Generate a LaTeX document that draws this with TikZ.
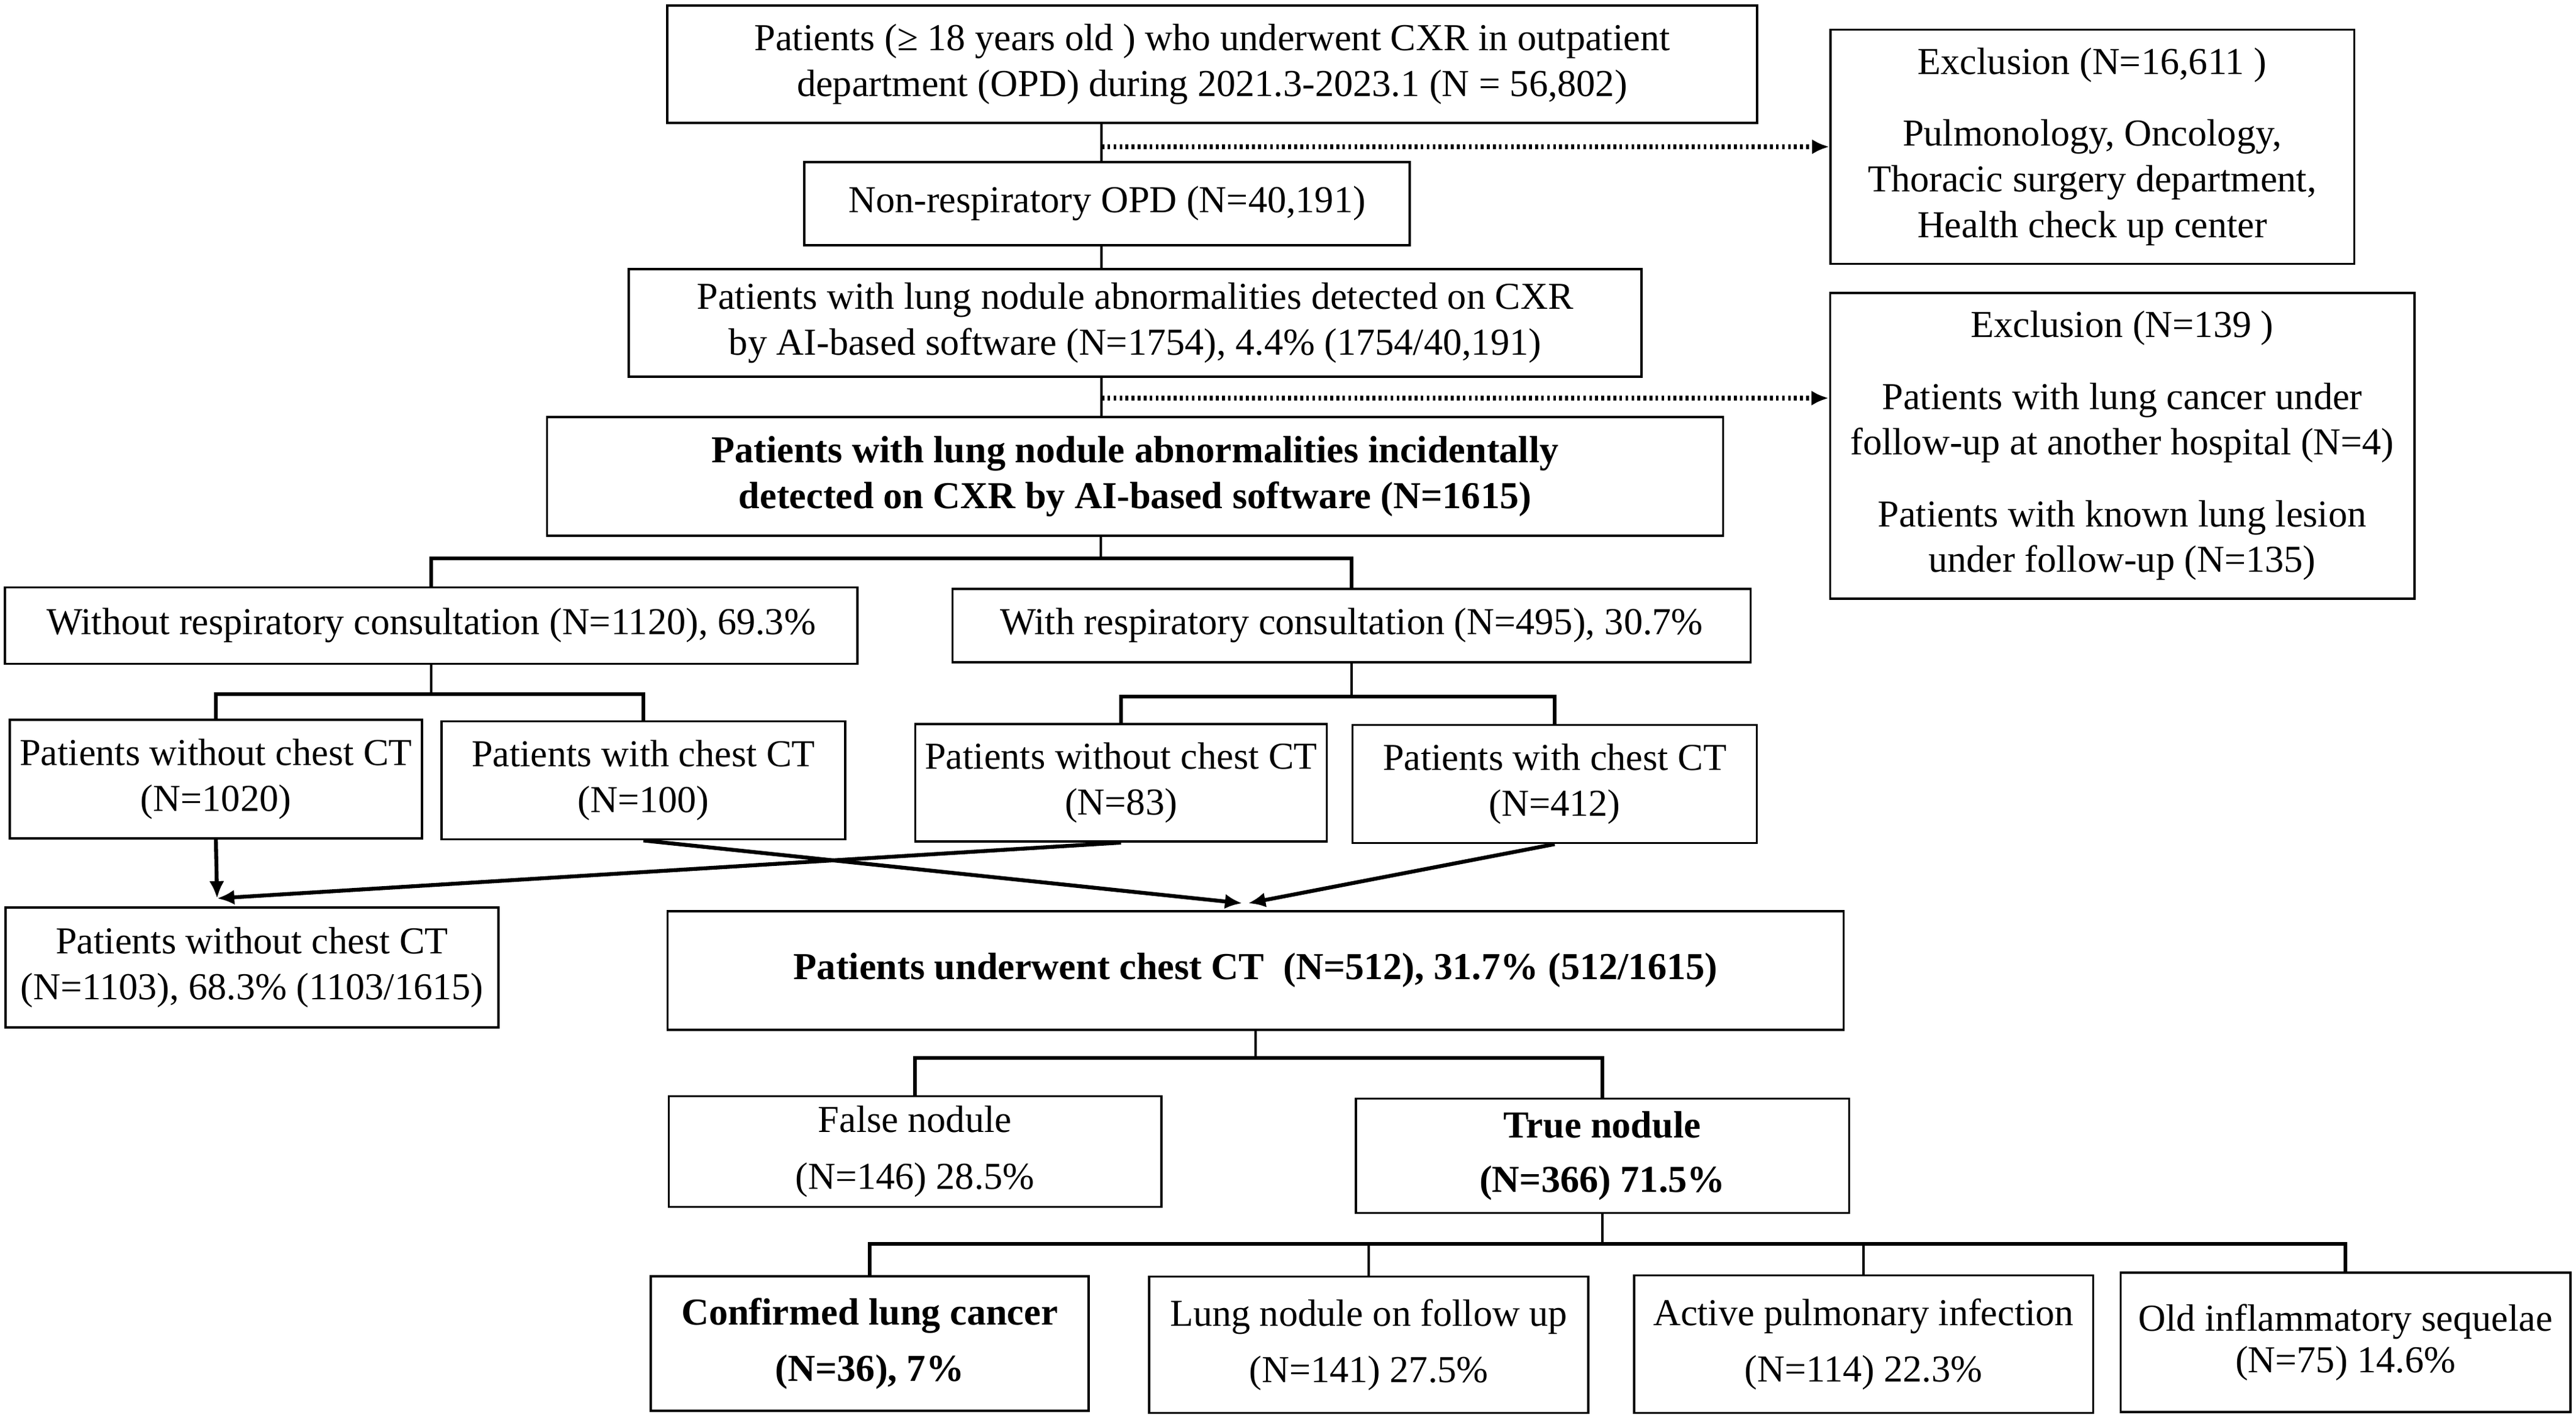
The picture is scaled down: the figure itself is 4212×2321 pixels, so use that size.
\documentclass[tikz,border=0pt]{standalone}
\usepackage{fontspec}
\setmainfont{Liberation Serif}
\usetikzlibrary{arrows.meta}

\begin{document}
\begin{tikzpicture}[
      x=0.01cm,y=-0.01cm,
      box/.style={rectangle,draw,line width=1pt,inner sep=0pt,align=center,font=\fontsize{17.7}{21.3}\selectfont},
      bold box/.style={box,font=\fontsize{17.7}{21.3}\selectfont\bfseries},
      stem/.style={line width=1.3pt},
      split/.style={line width=1.8pt},
      flow/.style={line width=1.8pt,-{Latex[length=8pt,width=7pt]}},
      exclude/.style={line width=2.2pt,dash pattern=on 1.3pt off 1.5pt,-{Latex[length=8pt,width=7pt]}},
    ]
    \useasboundingbox (0,0) rectangle (4212,2321);
    \node[box,minimum width=17.81cm,minimum height=1.92cm] (cohort) at (1982,105) {Patients (≥ 18 years old ) who underwent CXR in outpatient\\department (OPD) during 2021.3-2023.1 (N = 56,802)};
    \node[box,minimum width=9.89cm,minimum height=1.36cm] (non respiratory) at (1810,333) {Non-respiratory OPD (N=40,191)};
    \node[box,minimum width=16.55cm,minimum height=1.76cm] (ai detected) at (1856,528) {Patients with lung nodule abnormalities detected on CXR\\by AI-based software (N=1754), 4.4\% (1754/40,191)};
    \node[bold box,minimum width=19.22cm,minimum height=1.94cm] (incidental) at (1856,779) {Patients with lung nodule abnormalities incidentally\\detected on CXR by AI-based software (N=1615)};
    \node[box,minimum width=8.56cm,minimum height=3.83cm] (exclusion 1) at (3421,240) {Exclusion (N=16,611 )\\[12pt]Pulmonology, Oncology,\\Thoracic surgery department,\\Health check up center};
    \node[box,minimum width=9.55cm,minimum height=5cm] (exclusion 2) at (3470,729) {Exclusion (N=139 )\\[12pt]Patients with lung cancer under\\follow-up at another hospital (N=4)\\[12pt]Patients with known lung lesion\\under follow-up (N=135)};
    \node[box,minimum width=13.93cm,minimum height=1.25cm] (no consult) at (705,1023) {Without respiratory consultation (N=1120), 69.3\%};
    \node[box,minimum width=13.04cm,minimum height=1.2cm] (consult) at (2210,1023) {With respiratory consultation (N=495), 30.7\%};
    \node[box,minimum width=6.74cm,minimum height=1.94cm] (no consult no CT) at (353,1274) {Patients without chest CT\\(N=1020)};
    \node[box,minimum width=6.6cm,minimum height=1.93cm] (no consult CT) at (1052,1276) {Patients with chest CT\\(N=100)};
    \node[box,minimum width=6.73cm,minimum height=1.92cm] (consult no CT) at (1833,1280) {Patients without chest CT\\(N=83)};
    \node[box,minimum width=6.61cm,minimum height=1.93cm] (consult CT) at (2542,1282) {Patients with chest CT\\(N=412)};
    \node[box,minimum width=8.06cm,minimum height=1.96cm] (no CT) at (412,1582) {Patients without chest CT\\(N=1103), 68.3\% (1103/1615)};
    \node[bold box,minimum width=19.22cm,minimum height=1.94cm] (CT) at (2053,1587) {Patients underwent chest CT\ \ (N=512), 31.7\% (512/1615)};
    \node[box,minimum width=8.05cm,minimum height=1.81cm] (false nodule) at (1496,1883) {False nodule\\[5pt](N=146) 28.5\%};
    \node[bold box,minimum width=8.06cm,minimum height=1.87cm] (true nodule) at (2620,1890) {True nodule\\[4pt](N=366) 71.5\%};
    \node[bold box,minimum width=7.16cm,minimum height=2.2cm] (lung cancer) at (1422,2197) {Confirmed lung cancer\\[5pt](N=36), 7\%};
    \node[box,minimum width=7.18cm,minimum height=2.23cm] (follow up) at (2238,2199) {Lung nodule on follow up\\[5pt](N=141) 27.5\%};
    \node[box,minimum width=7.5cm,minimum height=2.25cm] (infection) at (3047,2198) {Active pulmonary infection\\[5pt](N=114) 22.3\%};
    \node[box,minimum width=7.35cm,minimum height=2.28cm] (sequelae) at (3835,2195) {Old inflammatory sequelae\\[-2pt](N=75) 14.6\%};
    \coordinate (spine) at (1801,0);
    \coordinate (excl 2 in) at (2990,651);
    \coordinate (fork 1) at (1800,913);
    \coordinate (fork 2) at (689,1135);
    \coordinate (fork 3) at (2226,1139);
    \coordinate (no CT in) at (355,1469);
    \coordinate (CT in a) at (2031,1477);
    \coordinate (CT in b) at (2041,1477);
    \coordinate (fork 4) at (2071,1730);
    \coordinate (fork 5) at (2644,2034);
    \draw[stem] (spine |- cohort.south) -- (spine |- non respiratory.north);
    \draw[exclude] (spine |- exclusion 1.west) -- (exclusion 1.west);
    \draw[stem] (spine |- non respiratory.south) -- (spine |- ai detected.north);
    \draw[stem] (spine |- ai detected.south) -- (spine |- incidental.north);
    \draw[exclude] (spine |- excl 2 in) -- (excl 2 in);
    \draw[stem] (fork 1 |- incidental.south) -- (fork 1);
    \draw[split] (no consult.north) |- (fork 1) -| (consult.north);
    \draw[stem] (no consult.south) -- (no consult.south |- fork 2);
    \draw[split] (no consult no CT.north) |- (fork 2) -| (no consult CT.north);
    \draw[stem] (consult.south) -- (consult.south |- fork 3);
    \draw[split] (consult no CT.north) |- (fork 3) -| (consult CT.north);
    \draw[flow] (no consult no CT.south) -- (no CT in);
    \draw[flow] (consult no CT.south) -- (no CT in);
    \draw[flow] (no consult CT.south) -- (CT in a);
    \draw[flow] (consult CT.south) -- (CT in b);
    \draw[stem] (CT.south) -- (CT.south |- fork 4);
    \draw[split] (false nodule.north) |- (fork 4) -| (true nodule.north);
    \draw[stem] (true nodule.south) -- (true nodule.south |- fork 5);
    \draw[split] (lung cancer.north) |- (fork 5) -| (sequelae.north);
    \draw[stem] (follow up.north) -- (follow up.north |- fork 5);
    \draw[stem] (infection.north) -- (infection.north |- fork 5);
  \end{tikzpicture}
\end{document}
